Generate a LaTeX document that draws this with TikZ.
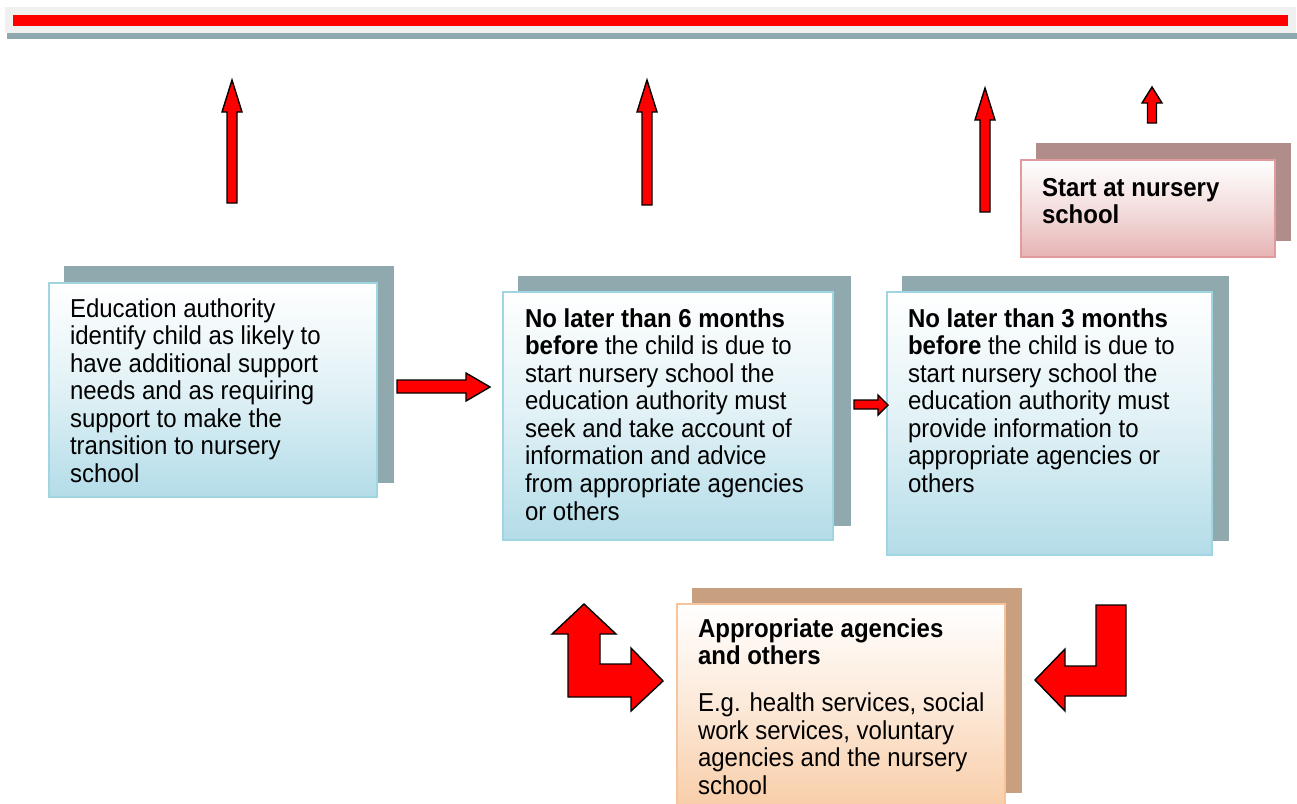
\documentclass[tikz,border=0pt]{standalone}
\usepackage{fontspec}
\usepackage{graphicx}
\setmainfont{Liberation Sans}
\definecolor{barred}{HTML}{FF0000}
\definecolor{bargray}{HTML}{F0F0F0}
\definecolor{blueshadow}{HTML}{8FA9AE}
\definecolor{blueborder}{HTML}{A0D6E2}
\definecolor{bluefill}{HTML}{B3DCE8}
\definecolor{pinkshadow}{HTML}{B08C8A}
\definecolor{pinkborder}{HTML}{E09C9C}
\definecolor{pinkfill}{HTML}{E6B4B4}
\definecolor{peachshadow}{HTML}{C8A080}
\definecolor{peachborder}{HTML}{F8C49C}
\definecolor{peachfill}{HTML}{F8CCA6}
\newcommand{\btext}[2]{\scalebox{1}[1.08]{\parbox[t]{#1}{\fontsize{24}{25.55}\selectfont\lineskiplimit=-30pt\raggedright #2}}}
\tikzset{
  blockarrow/.style={fill=barred, draw=black, line width=1.4pt, line join=miter},
  txt/.style={anchor=base west, inner sep=0pt, outer sep=0pt},
  blueshad/.style={fill=blueshadow},
  bluebox/.style={draw=blueborder, line width=2pt, top color=white, bottom color=bluefill, middle color=white!60!bluefill},
  pinkshad/.style={fill=pinkshadow},
  pinkbox/.style={draw=pinkborder, line width=2pt, top color=white, bottom color=pinkfill, middle color=white!55!pinkfill},
  peachshad/.style={fill=peachshadow},
  peachbox/.style={draw=peachborder, line width=2pt, top color=white, bottom color=peachfill, middle color=white!55!peachfill},
}
\newcommand{\uparr}[3]{%
  \path[blockarrow] (#1,#2) -- (#1+10,#2+32) -- (#1+5,#2+32) -- (#1+5,#3) -- (#1-5,#3) -- (#1-5,#2+32) -- (#1-10,#2+32) -- cycle;}
\begin{document}
\begin{tikzpicture}[x=1pt,y=-1pt]
\useasboundingbox (0,0) rectangle (1297,803);
\fill[white] (0,0) rectangle (1297,803);
% top bar
\fill[blueshadow] (7,33) rectangle (1297,39);
\fill[bargray] (5,7) rectangle (1296,33);
\fill[barred] (13,15) rectangle (1288,26);
% up arrows
\uparr{232}{80}{203}
\uparr{647}{80}{205}
\uparr{985}{88}{212}
\path[blockarrow] (1152,87) -- (1162,103) -- (1156.5,103) -- (1156.5,123) -- (1147.5,123) -- (1147.5,103) -- (1142,103) -- cycle;
% box 4: start at nursery
\fill[pinkshad] (1036,143) rectangle (1291,241);
\path[pinkbox] (1021,160) rectangle (1275,257);
\node[txt] (t4) at (1042,196) {\btext{240pt}{\textbf{Start at nursery\\ school}}};
% box 1
\fill[blueshad] (64,266) rectangle (394,483);
\path[bluebox] (49,283) rectangle (377,497);
\node[txt] (t1) at (70,317) {\btext{320pt}{Education authority\\ identify child as likely to\\ have additional support\\ needs and as requiring\\ support to make the\\ transition to nursery\\ school}};
% box 2
\fill[blueshad] (518,276) rectangle (851,526);
\path[bluebox] (503,292) rectangle (833,540);
\node[txt] (t2) at (525,327) {\btext{320pt}{\textbf{No later than 6 months\\ before} the child is due to\\ start nursery school the\\ education authority must\\ seek and take account of\\ information and advice\\ from appropriate agencies\\ or others}};
% box 3
\fill[blueshad] (902,276) rectangle (1229,541);
\path[bluebox] (887,292) rectangle (1212,555);
\node[txt] (t3) at (908,327) {\btext{320pt}{\textbf{No later than 3 months\\ before} the child is due to\\ start nursery school the\\ education authority must\\ provide information to\\ appropriate agencies or\\ others}};
% box 5
\fill[peachshad] (692,588) rectangle (1022,793);
\path[peachbox] (677,604) rectangle (1005,812);
\node[txt] (t5) at (698,637) {\btext{320pt}{\textbf{Appropriate agencies\\ and others}\\[18pt] E.g. health services, social\\ work services, voluntary\\ agencies and the nursery\\ school}};
% right arrows
\path[blockarrow] (397,380) -- (466,380) -- (466,373) -- (490,387) -- (466,401) -- (466,393) -- (397,393) -- cycle;
\path[blockarrow] (854,400) -- (878,400) -- (878,395) -- (888,405) -- (878,415) -- (878,409) -- (854,409) -- cycle;
% bent arrows
\path[blockarrow] (584,604) -- (616,634) -- (600,634) -- (600,664) -- (631,664) -- (631,648) -- (663,681) -- (631,711) -- (631,697) -- (568,697) -- (568,634) -- (552,634) -- cycle;
\path[blockarrow] (1096,605) -- (1126,605) -- (1126,696) -- (1065,696) -- (1065,711) -- (1035,680) -- (1065,649) -- (1065,666) -- (1096,666) -- cycle;
\end{tikzpicture}
\end{document}
